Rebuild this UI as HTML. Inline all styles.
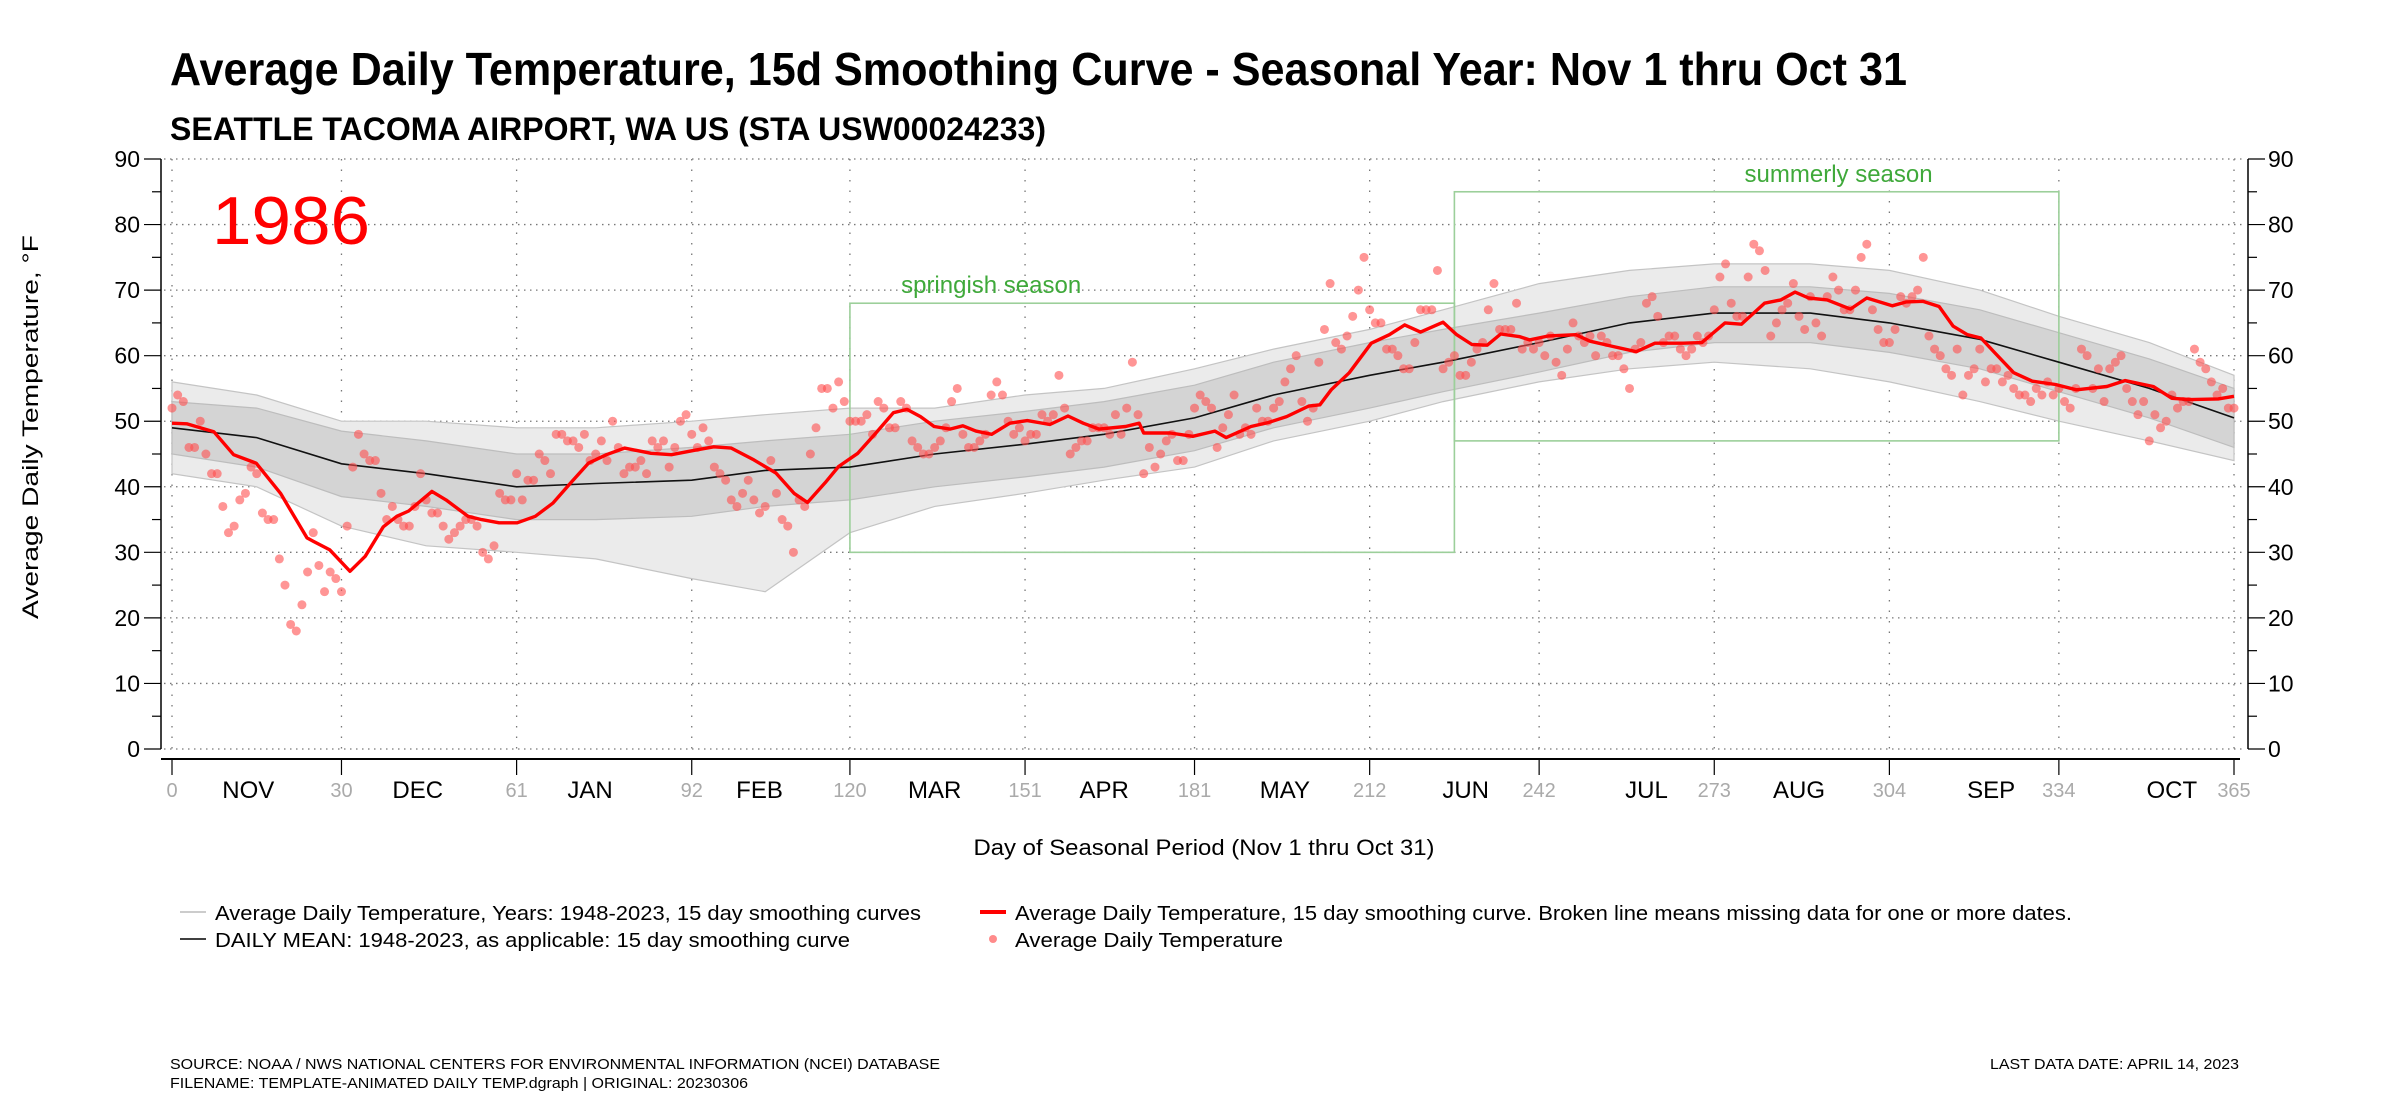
<!DOCTYPE html>
<html><head><meta charset="utf-8"><style>
html,body{margin:0;padding:0;background:#fff;}
svg{display:block;font-family:"Liberation Sans",Arial,sans-serif;}
</style></head><body>
<svg id="chart" width="2400" height="1100" viewBox="0 0 2400 1100" xmlns="http://www.w3.org/2000/svg">
<rect width="2400" height="1100" fill="#fff"/>
<text x="170" y="85" font-size="46" font-weight="bold" textLength="1737" lengthAdjust="spacingAndGlyphs">Average Daily Temperature, 15d Smoothing Curve - Seasonal Year: Nov 1 thru Oct 31</text>
<text x="170" y="140" font-size="32" font-weight="bold" textLength="876" lengthAdjust="spacingAndGlyphs">SEATTLE TACOMA AIRPORT, WA US (STA USW00024233)</text>
<g id="grid"></g>
<g id="bands"></g>
<g id="seasons"></g>
<g id="marks"></g>
<g id="axes"></g>
<text x="212" y="244" font-size="68" fill="#ff0000" textLength="158" lengthAdjust="spacingAndGlyphs">1986</text>
<text transform="translate(38,427) rotate(-90)" text-anchor="middle" font-size="22" textLength="384" lengthAdjust="spacingAndGlyphs">Average Daily Temperature, °F</text>
<text x="1204" y="855" text-anchor="middle" font-size="22" textLength="461" lengthAdjust="spacingAndGlyphs">Day of Seasonal Period (Nov 1 thru Oct 31)</text>
<g>
<line x1="180" y1="912" x2="206" y2="912" stroke="#bbb" stroke-width="1.5"/>
<text x="215" y="920" font-size="20" textLength="706" lengthAdjust="spacingAndGlyphs">Average Daily Temperature, Years: 1948-2023, 15 day smoothing curves</text>
<line x1="180" y1="939" x2="206" y2="939" stroke="#000" stroke-width="1.5"/>
<text x="215" y="947" font-size="20" textLength="635" lengthAdjust="spacingAndGlyphs">DAILY MEAN: 1948-2023, as applicable: 15 day smoothing curve</text>
<line x1="980" y1="912" x2="1006" y2="912" stroke="#ff0000" stroke-width="4"/>
<text x="1015" y="920" font-size="20" textLength="1057" lengthAdjust="spacingAndGlyphs">Average Daily Temperature, 15 day smoothing curve. Broken line means missing data for one or more dates.</text>
<circle cx="993" cy="939" r="4" fill="#ff5a5a" fill-opacity="0.7"/>
<text x="1015" y="947" font-size="20" textLength="268" lengthAdjust="spacingAndGlyphs">Average Daily Temperature</text>
</g>
<text x="170" y="1069" font-size="15" textLength="770" lengthAdjust="spacingAndGlyphs">SOURCE: NOAA / NWS NATIONAL CENTERS FOR ENVIRONMENTAL INFORMATION (NCEI) DATABASE</text>
<text x="170" y="1088" font-size="15" textLength="578" lengthAdjust="spacingAndGlyphs">FILENAME: TEMPLATE-ANIMATED DAILY TEMP.dgraph | ORIGINAL: 20230306</text>
<text x="2239" y="1069" text-anchor="end" font-size="15" textLength="249" lengthAdjust="spacingAndGlyphs">LAST DATA DATE: APRIL 14, 2023</text>
</svg>
<script>
const dayTicks=[0,30,61,92,120,151,181,212,242,273,304,334,365];
const yTicks=[0,10,20,30,40,50,60,70,80,90];
const months=["NOV","DEC","JAN","FEB","MAR","APR","MAY","JUN","JUL","AUG","SEP","OCT"];
const monthDays=[13.5,43.5,74,104,135,165,197,229,261,288,322,354];
const bandDays=[0,15,30,45,61,75,92,105,120,135,151,165,181,195,212,225,242,258,273,290,304,320,334,350,365];
const meanVals=[49,47.5,43.5,42,40,40.5,41,42.5,43,45,46.5,48,50.5,54,57,59,62,65,66.5,66.5,65,62.5,59,55,50.5];
const outerHi=[56,54,50,50,49,49,50,51,52,52,54,55,58,61,64,67,71,73,74,74,73,70,66,62,57];
const outerLo=[42,40,34,31,30,29,26,24,33,37,39,41,43,47,50,53,56,58,59,58,56,53,50,47,44];
const innerHi=[53,52,48.5,47,45,45,46,47,48,50,51.5,53,55.5,59,62,64,66.5,69,70.5,70.5,69.5,67,63.5,59.5,55];
const innerLo=[45,43,38.5,37,35,35,35.5,37,38,40,41.5,43,45.5,49,52,54.5,57.5,60.5,62,62,60.5,58,54.5,50.5,46];
const smoothDays=[0,2.6,5,7.4,10.9,14.9,19.2,23.9,25,27.9,31.5,34.2,37.4,39.8,41.9,46,48.5,52.4,54.8,57.9,61.1,64.3,67.4,70.6,73.7,76.9,80.1,84.8,88.4,92.7,95.9,99,103,106.9,110.1,112.5,115.6,118,121.4,124.6,127.7,130.1,132.5,134.9,137.7,140,142.3,145.1,148.3,151.4,155.4,158.6,161.3,164.1,168.8,171.2,172,176.7,180.7,184.6,186.6,191,194.1,197.3,201.2,203.2,205.2,208.4,212.3,215.5,218.2,221,225,227.4,230.1,232.8,235.2,238.6,240.3,243.6,248.5,251,255.1,259.2,262.5,267.5,270.8,274.9,277.8,281.9,284.8,287.3,289.7,293,297.1,300,304.5,307,309.9,312.8,315.3,317.8,320.2,322.7,326,329.3,333.4,337.1,342.5,345.7,350.7,354,357.3,362.2,365];
const smoothVals=[49.7,49.6,49,48.4,44.9,43.6,39,32.2,31.7,30.4,27.1,29.4,33.9,35.5,36.3,39.3,38,35.5,35,34.5,34.5,35.5,37.5,40.6,43.6,44.9,45.9,45.1,44.9,45.6,46.1,45.9,44.1,42.1,39,37.6,40.6,43.1,45.1,48.2,51.3,51.8,50.7,49.2,48.8,49.3,48.5,48,49.7,50.1,49.5,50.8,49.7,48.8,49.2,49.7,48.2,48.2,47.7,48.5,47.5,49.2,49.8,50.7,52.3,52.5,54.8,57.4,61.9,63.2,64.7,63.6,65.1,63.2,61.7,61.6,63.3,62.9,62.4,63,63.2,62.2,61.4,60.6,61.9,61.9,62,65,64.8,68,68.5,69.7,68.8,68.5,67.1,68.8,67.6,68.2,68.3,67.5,64.5,63.2,62.7,60.4,57.4,56.1,55.6,54.8,55.3,56.2,55.3,53.5,53.3,53.4,53.8];
const dailyVals=[52,54,53,46,46,50,45,42,42,37,33,34,38,39,43,42,36,35,35,29,25,19,18,22,27,33,28,24,27,26,24,34,43,48,45,44,44,39,35,37,35,34,34,37,42,38,36,36,34,32,33,34,35,35,34,30,29,31,39,38,38,42,38,41,41,45,44,42,48,48,47,47,46,48,44,45,47,44,50,46,42,43,43,44,42,47,46,47,43,46,50,51,48,46,49,47,43,42,41,38,37,39,41,38,36,37,44,39,35,34,30,38,37,45,49,55,55,52,56,53,50,
50,50,51,48,53,52,49,49,53,52,47,46,45,45,46,47,49,53,55,48,46,46,47,48,54,56,54,50,48,49,47,48,48,51,50,51,57,52,45,46,47,47,49,49,49,48,51,48,52,59,51,42,46,43,45,47,48,44,44,48,52,54,53,52,46,49,51,54,48,49,48,52,50,50,52,53,56,58,60,53,50,52,59,64,71,62,61,63,66,70,75,67,65,65,61,61,60,58,58,62,67,67,67,73,58,59,60,57,57,59,61,62,67,71,64,64,64,68,61,62,
61,62,60,63,59,57,61,65,63,62,63,60,63,62,60,60,58,55,61,62,68,69,66,62,63,63,61,60,61,63,62,63,67,72,74,68,66,66,72,77,76,73,63,65,67,68,71,66,64,69,65,63,69,72,70,67,67,70,75,77,67,64,62,62,64,69,68,69,70,75,63,61,60,58,57,61,54,57,58,61,56,58,58,56,57,55,54,54,53,55,54,56,54,55,53,52,55,61,60,55,58,53,58,59,60,55,53,51,53,47,51,49,50,54,52,53,53,61,59,58,56,54,55,52,52];
const seasonNames=["springish season","summerly season"];
const seasonStart=[120,227];
const seasonEnd=[227,334];
const seasonLow=[30,47];
const seasonHigh=[68,85];
const seasonLabelDay=[145,295];

const NS="http://www.w3.org/2000/svg";
const X0=172,X1=2234,Y0=749,YTOP=159;
function xs(d){return X0+(X1-X0)*d/365;}
function ys(v){return Y0-(Y0-YTOP)*v/90;}
function mk(tag,attrs,parent){const e=document.createElementNS(NS,tag);for(const k in attrs)e.setAttribute(k,attrs[k]);parent.appendChild(e);return e;}
const grid=document.getElementById('grid'),bands=document.getElementById('bands'),seasons=document.getElementById('seasons'),marks=document.getElementById('marks'),axes=document.getElementById('axes');

yTicks.forEach(t=>{const l=mk('line',{x1:164,x2:2244,y1:ys(t),y2:ys(t),stroke:'#777','stroke-width':1.3,'stroke-dasharray':'1.5,4.5'},grid);

});
dayTicks.forEach(t=>{const l=mk('line',{x1:xs(t),x2:xs(t),y1:YTOP,y2:Y0+5,stroke:'#777','stroke-width':1.3,'stroke-dasharray':'1.5,9'},grid);

});

function bandPath(hi,lo){let p='';bandDays.forEach((d,i)=>{p+=(i?'L':'M')+xs(d).toFixed(1)+','+ys(hi[i]).toFixed(1);});for(let i=bandDays.length-1;i>=0;i--)p+='L'+xs(bandDays[i]).toFixed(1)+','+ys(lo[i]).toFixed(1);return p+'Z';}
function linePath(days,vals){return days.map((d,i)=>(i?'L':'M')+xs(d).toFixed(1)+','+ys(vals[i]).toFixed(1)).join('');}
const ob=mk('path',{d:bandPath(outerHi,outerLo),fill:'#ebebeb',stroke:'#c4c4c4','stroke-width':1.2},bands);


const ib=mk('path',{d:bandPath(innerHi,innerLo),fill:'#d4d4d4',stroke:'#bdbdbd','stroke-width':1.2},bands);



seasonNames.forEach((n,i)=>{
const r=mk('rect',{x:xs(seasonStart[i]),y:ys(seasonHigh[i]),width:xs(seasonEnd[i])-xs(seasonStart[i]),height:ys(seasonLow[i])-ys(seasonHigh[i]),fill:'none',stroke:'#9ccf9a','stroke-width':1.6},seasons);


const t=mk('text',{x:xs(seasonLabelDay[i]),y:ys(seasonHigh[i])-10,'text-anchor':'middle','font-size':24,fill:'#3fa93a'},seasons);
t.textContent=n;

});

const ml=mk('path',{d:linePath(bandDays,meanVals),fill:'none',stroke:'#111','stroke-width':1.6},marks);


dailyVals.forEach((v,i)=>{const c=mk('circle',{cx:xs(i),cy:ys(v),r:4.5,fill:'#ff4f4f','fill-opacity':0.6},marks);

});
const rl=mk('path',{d:linePath(smoothDays,smoothVals),fill:'none',stroke:'#ff0000','stroke-width':3.4,'stroke-linejoin':'round'},marks);



const la=mk('line',{x1:161,x2:161,y1:YTOP,y2:Y0,stroke:'#000','stroke-width':1.5},axes);


const ra=mk('line',{x1:2248,x2:2248,y1:YTOP,y2:Y0,stroke:'#000','stroke-width':1.5},axes);


const ba=mk('line',{x1:161,x2:2240,y1:759,y2:759,stroke:'#000','stroke-width':2},axes);


for(let v=0;v<=90;v+=5){const major=v%10===0;
mk('line',{x1:major?144:152,x2:161,y1:ys(v),y2:ys(v),stroke:'#000','stroke-width':1.2},axes);
mk('line',{x1:2248,x2:major?2265:2257,y1:ys(v),y2:ys(v),stroke:'#000','stroke-width':1.2},axes);}
yTicks.forEach(t=>{
const a=mk('text',{x:140,y:ys(t)+8,'text-anchor':'end','font-size':23},axes);a.textContent=t;


const b=mk('text',{x:2268,y:ys(t)+8,'font-size':23},axes);b.textContent=t;

});
dayTicks.forEach(t=>{mk('line',{x1:xs(t),x2:xs(t),y1:759,y2:775,stroke:'#000','stroke-width':1.2},axes);
const a=mk('text',{x:xs(t),y:797,'text-anchor':'middle','font-size':20,fill:'#aaa'},axes);a.textContent=t;

});
months.forEach((m,i)=>{const a=mk('text',{x:xs(monthDays[i]),y:798,'text-anchor':'middle','font-size':24},axes);a.textContent=m;

});
</script>
</body></html>
